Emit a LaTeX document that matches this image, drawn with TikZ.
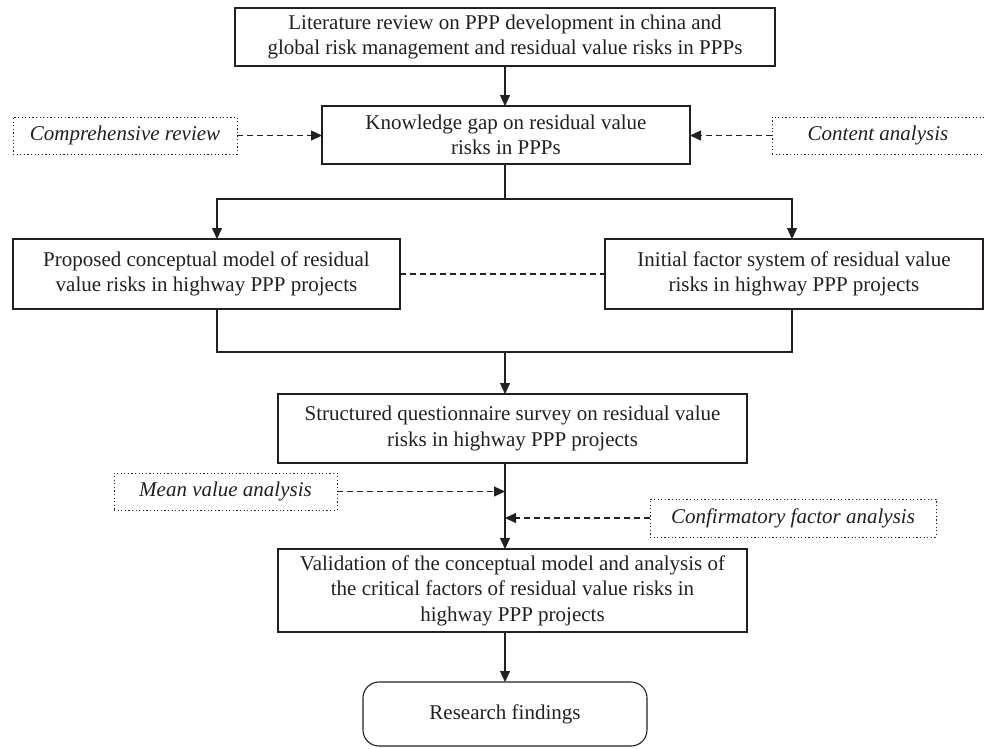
\documentclass[tikz,border=0pt]{standalone}
\usepackage{fontspec}
\setmainfont{Liberation Serif}
\usetikzlibrary{arrows.meta}
\definecolor{ink}{HTML}{231F20}
\begin{document}
\begin{tikzpicture}[x=1pt,y=-1pt,
  every node/.style={inner sep=0pt, outer sep=0pt, align=center, text=ink, font=\fontsize{21}{25.5}\selectfont},
  solidbox/.style={draw=ink, line width=1.1pt},
  dotbox/.style={draw=ink, line width=0.9pt, dash pattern=on 1.2pt off 2.4pt, font=\fontsize{21}{25.5}\selectfont\itshape},
  link/.style={draw=ink, line width=1.1pt},
  arr/.style={link, -{Triangle[length=11pt,width=10pt]}},
  darr/.style={arr, dash pattern=on 6pt off 4pt}
]
\useasboundingbox (0,0) rectangle (984,748);
\node[solidbox, minimum width=540pt, minimum height=58pt] (lit) at (505,37)
  {Literature review on PPP development in china and\\global risk management and residual value risks in PPPs};
\node[solidbox, minimum width=368pt, minimum height=58pt] (gap) at (506,135)
  {Knowledge gap on residual value\\risks in PPPs};
\node[dotbox, minimum width=224pt, minimum height=37pt] (comp) at (125,135.5) {Comprehensive review};
\node[dotbox, minimum width=212pt, minimum height=37pt] (cont) at (878,135.5) {Content analysis};
\node[solidbox, minimum width=387pt, minimum height=70pt] (prop) at (206.5,274)
  {Proposed conceptual model of residual\\value risks in highway PPP projects};
\node[solidbox, minimum width=378pt, minimum height=70pt] (init) at (794,274)
  {Initial factor system of residual value\\risks in highway PPP projects};
\node[solidbox, minimum width=469pt, minimum height=69pt] (surv) at (512.5,428.5)
  {Structured questionnaire survey on residual value\\risks in highway PPP projects};
\node[dotbox, minimum width=223pt, minimum height=37pt] (mean) at (225.5,491.5) {Mean value analysis};
\node[dotbox, minimum width=286pt, minimum height=38pt] (conf) at (793,518) {Confirmatory factor analysis};
\node[solidbox, minimum width=469pt, minimum height=83pt] (valid) at (512.5,590.5)
  {Validation of the conceptual model and analysis of\\the critical factors of residual value risks in\\highway PPP projects};
\node[solidbox, rounded corners=16pt, minimum width=284pt, minimum height=64pt] (res) at (505,714)
  {Research findings};
\coordinate (c) at (505,0);
\coordinate (lx) at (217,0);
\coordinate (rx) at (792,0);
\coordinate (br) at (505,199);
\coordinate (mg) at (505,352);
\draw[arr] (lit.south -| c) -- (gap.north -| c);
\draw[darr] (comp.east) -- (comp.east -| gap.west);
\draw[darr] (cont.west) -- (cont.west -| gap.east);
\draw[link] (gap.south -| c) -- (br);
\draw[arr] (br) -| (lx |- prop.north);
\draw[arr] (br) -| (rx |- init.north);
\draw[link, dash pattern=on 6pt off 4pt] (prop.east) -- (init.west);
\draw[link] (lx |- prop.south) |- (mg);
\draw[link] (rx |- init.south) |- (mg);
\draw[arr] (mg) -- (c |- surv.north);
\draw[arr] (c |- surv.south) -- (c |- valid.north);
\draw[darr] (mean.east) -- (mean.east -| c);
\draw[darr] (conf.west) -- (conf.west -| c);
\draw[arr] (c |- valid.south) -- (c |- res.north);
\end{tikzpicture}
\end{document}
